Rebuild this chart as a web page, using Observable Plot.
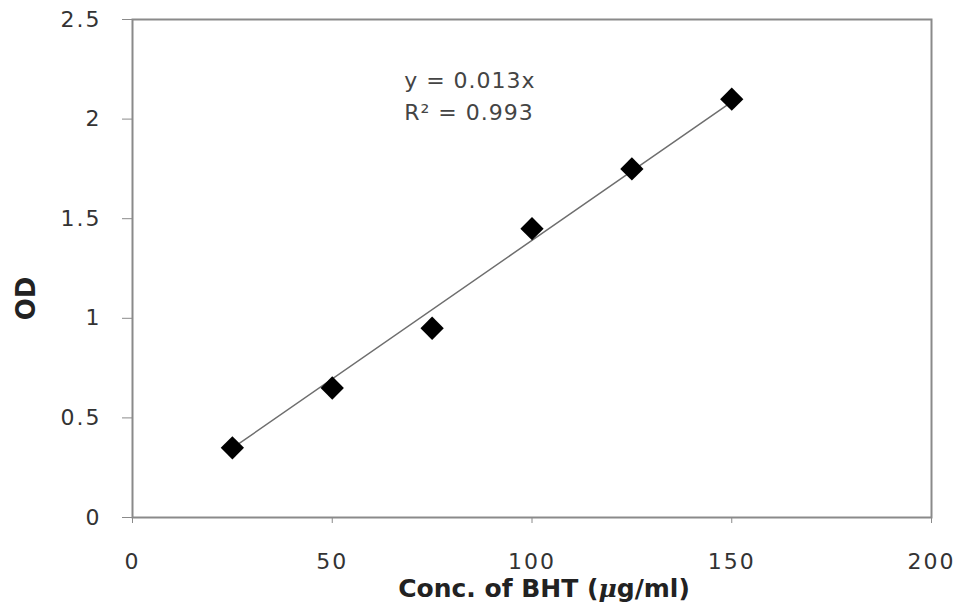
<!DOCTYPE html>
<html>
<head>
<meta charset="utf-8">
<script src="https://cdn.jsdelivr.net/npm/d3@7"></script>
<script src="https://cdn.jsdelivr.net/npm/@observablehq/plot@0.6"></script>
<style>
  html, body { margin: 0; padding: 0; background: #fff; }
  #chart svg { display: block; }
  .ticklbl text { letter-spacing: 2px; }
  .eq text { letter-spacing: 1px; }
</style>
</head>
<body>
<div id="chart"></div>
<script>
const conc = [25, 50, 75, 100, 125, 150];
const od = [0.35, 0.65, 0.95, 1.45, 1.75, 2.1];
const trendX = [25, 150];
const trendY = [0.348, 2.087];
const xTicks = [0, 50, 100, 150, 200];
const yTicks = [0, 0.5, 1, 1.5, 2, 2.5];
const eqLines = ["y = 0.013x", "R² = 0.993"];
const eqY = [2.19, 2.03];
const eqX = 68;

const points = conc.map((c, i) => ({x: c, y: od[i]}));
const trend = trendX.map((x, i) => ({x, y: trendY[i]}));
const eq = eqLines.map((t, i) => ({t, x: eqX, y: eqY[i]}));

const plot = Plot.plot({
  width: 958,
  height: 605,
  marginLeft: 132,
  marginRight: 27,
  marginTop: 19,
  marginBottom: 88,
  style: {fontFamily: "DejaVu Sans", fontSize: "22px", color: "#333", background: "#fff"},
  x: {domain: [0, 200], label: null},
  y: {domain: [0, 2.5], label: null},
  marks: [
    Plot.frame({stroke: "#8a8a8a", strokeWidth: 2}),
    Plot.axisX({ticks: xTicks, tickSize: 6, tickPadding: 30, stroke: "#8a8a8a", fill: "#333", fontSize: 22, className: "ticklbl", tickFormat: d => String(d)}),
    Plot.axisY({ticks: yTicks, tickSize: 10, tickPadding: 21, stroke: "#8a8a8a", fill: "#333", fontSize: 22, className: "ticklbl", tickFormat: d => String(d)}),
    Plot.line(trend, {x: "x", y: "y", stroke: "#6e6e6e", strokeWidth: 1.5}),
    Plot.dot(points, {x: "x", y: "y", symbol: "diamond2", r: 10.5, fill: "#000", stroke: null}),
    Plot.text(eq, {x: "x", y: "y", text: "t", textAnchor: "start", fontSize: 22, fill: "#444", className: "eq"}),
    Plot.text(["Conc. of BHT (μg/ml)"], {frameAnchor: "bottom", textAnchor: "middle", lineAnchor: "middle", dy: 71, dx: 12, fontWeight: "bold", fontSize: 25, fill: "#222", className: "xlabel"}),
    Plot.text(["OD"], {frameAnchor: "left", textAnchor: "middle", lineAnchor: "middle", dx: -106, dy: 30, rotate: -90, fontWeight: "bold", fontSize: 26, fill: "#222"})
  ]
});
document.getElementById("chart").appendChild(plot);

// italicize the μ in the x label
d3.select(plot).selectAll("g.xlabel text").each(function() {
  const el = d3.select(this);
  const txt = el.text();
  const i = txt.indexOf("μ");
  if (i < 0) return;
  el.text(null);
  el.append("tspan").text(txt.slice(0, i));
  el.append("tspan").attr("font-style", "italic").attr("font-family", "DejaVu Serif").text("μ");
  el.append("tspan").text(txt.slice(i + 1));
});
</script>
</body>
</html>
